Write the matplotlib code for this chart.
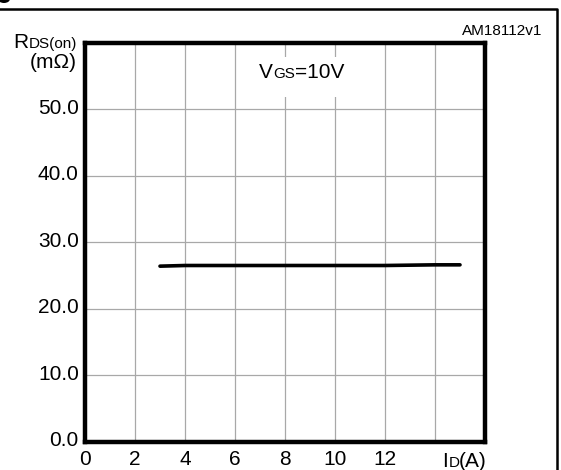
import matplotlib
matplotlib.use("Agg")
import matplotlib.pyplot as plt
from matplotlib.lines import Line2D
from matplotlib.patches import Ellipse
from matplotlib.transforms import IdentityTransform, ScaledTranslation

plt.rcParams['font.family'] = ['Liberation Sans', 'DejaVu Sans']

# On-resistance vs drain current, VGS = 10 V
drain_current = [3, 4, 6, 8, 10, 12, 14, 15]
rds_on = [26.4, 26.5, 26.5, 26.5, 26.5, 26.5, 26.6, 26.6]

x_ticks = [0, 2, 4, 6, 8, 10, 12, 14, 16]
x_labels = ['0', '2', '4', '6', '8', '10', '12', '', '']
y_ticks = [0, 10, 20, 30, 40, 50, 60]
y_labels = ['0.0', '10.0', '20.0', '30.0', '40.0', '50.0', '']

BIG, SMALL = 15, 11

W, H = 561, 470
fig = plt.figure(figsize=(W / 100, H / 100), dpi=100)
ax = fig.add_axes([85 / W, 1 - 441.5 / H, 400 / W, 398.5 / H])

ax.plot(drain_current, rds_on, color='black', lw=2.6, solid_capstyle='round', zorder=3)

ax.set_xlim(0, 16)
ax.set_ylim(0, 60)
ax.set_xticks(x_ticks)
ax.set_xticklabels(x_labels)
ax.set_yticks(y_ticks)
ax.set_yticklabels(y_labels)
ax.tick_params(length=0, labelsize=BIG, colors='black')
ax.tick_params(axis='x', pad=6)
ax.tick_params(axis='y', pad=4.5)
# y labels sit a little above their grid lines
for lab in ax.get_yticklabels():
    lab.set_transform(lab.get_transform() + ScaledTranslation(0, 3 / 100, fig.dpi_scale_trans))
ax.grid(True, color='#a8a8a8', lw=0.9)
for s in ax.spines.values():
    s.set_linewidth(3.2)
    s.set_zorder(4)

# outer frame (top and right)
fig.add_artist(Line2D([0, 557 / W, 557 / W], [1 - 8.5 / H, 1 - 8.5 / H, 0],
                      transform=fig.transFigure, color='black', lw=1.8))
# bit of the caption above the frame
fig.add_artist(Ellipse((4, H + 1), 12, 8, transform=IdentityTransform(),
                       facecolor='black', edgecolor='none'))

renderer = fig.canvas.get_renderer()


def rich(x, y, parts, ha='left', box=None):
    # draws text pieces of mixed size on one baseline, (x, y) in pixels from top-left
    texts = []
    for s, size in parts:
        t = fig.text(0, 0, s, fontsize=size, va='baseline', ha='left',
                     transform=IdentityTransform())
        texts.append(t)
    widths = [t.get_window_extent(renderer).width for t in texts]
    total = sum(widths)
    cx = x - total if ha == 'right' else (x - total / 2 if ha == 'center' else x)
    if box is not None:
        top, bottom = box
        fig.add_artist(plt.Rectangle((cx - 14, H - bottom), total + 20, bottom - top,
                                     transform=IdentityTransform(),
                                     facecolor='white', edgecolor='none', zorder=2))
    for t, w in zip(texts, widths):
        t.set_position((cx, H - y))
        t.set_zorder(5)
        cx += w


rich(77, 48, [('R', BIG), ('DS(on)', SMALL)], ha='right')
rich(77, 68, [('(m\u03a9)', BIG)], ha='right')
rich(301.5, 78, [('V', BIG), ('GS', SMALL), ('=10V', BIG)], ha='center', box=(57, 97))
rich(487, 467, [('I', BIG), ('D', SMALL), ('(A)', BIG)], ha='right')
rich(542, 35, [('AM18112v1', SMALL)], ha='right')

fig.savefig('out.png', dpi=100)
